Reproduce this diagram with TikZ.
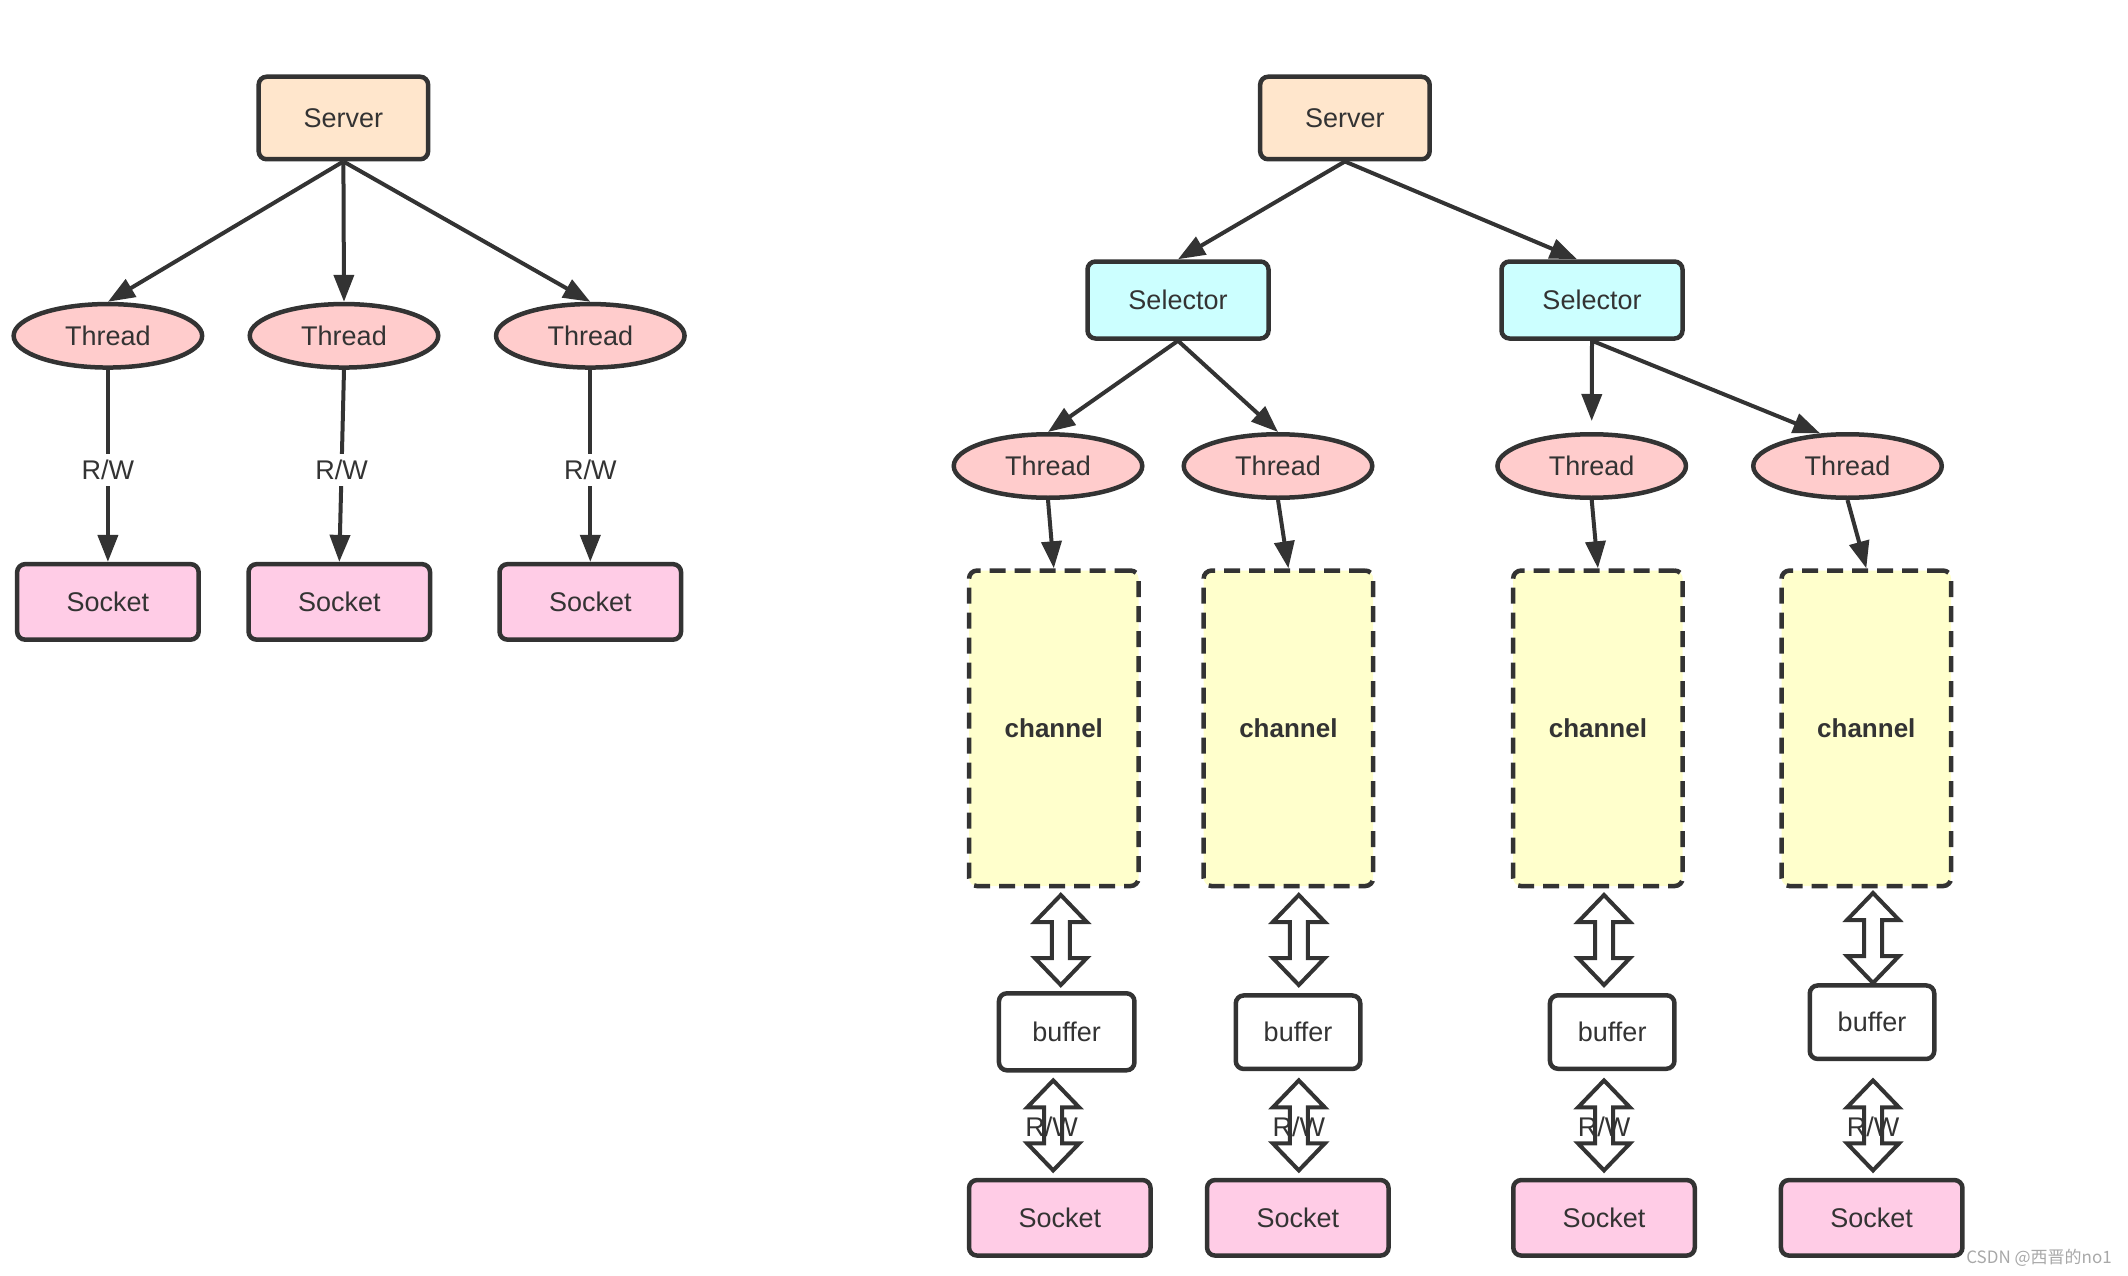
\documentclass[tikz,border=0pt]{standalone}
\usepackage{fontspec}
\setmainfont{Liberation Sans}
\newfontfamily\cjkfont{Noto Sans CJK SC}
\usetikzlibrary{arrows.meta,calc,shapes.geometric}
\definecolor{ink}{HTML}{333333}
\definecolor{serverc}{HTML}{FFE6CC}
\definecolor{selc}{HTML}{CCFFFF}
\definecolor{threadc}{HTML}{FFCCCC}
\definecolor{sockc}{HTML}{FFCCE6}
\definecolor{chanc}{HTML}{FFFFCC}
\definecolor{wmark}{HTML}{A8A8A8}
\tikzset{
  txt/.style={text=ink, font=\fontsize{27}{32}\selectfont},
  box/.style={txt, draw=ink, line width=4.5pt, rounded corners=8pt, inner sep=0pt},
  serverbox/.style={box, fill=serverc, minimum width=169.5pt, minimum height=82.5pt},
  selbox/.style={box, fill=selc, minimum width=181pt, minimum height=77pt},
  threadell/.style={txt, ellipse, draw=ink, line width=4.5pt, fill=threadc, minimum width=188.5pt, minimum height=63.5pt, inner sep=0pt},
  sockbox/.style={box, fill=sockc, minimum width=181.5pt, minimum height=75.5pt},
  chanbox/.style={box, fill=chanc, dash pattern=on 16pt off 9pt, minimum width=169.5pt, minimum height=315.5pt, font=\fontsize{26}{31}\selectfont\bfseries},
  bufbox/.style={box, fill=white, minimum width=124.5pt, minimum height=73.5pt},
  conn/.style={draw=ink, line width=4pt, -{Triangle[length=27pt,width=20pt]}},
  rwlbl/.style={txt, inner sep=0pt},
  dblarr/.pic={\draw[draw=ink, line width=4pt, fill=white]
    (0,-45) -- (26,-18) -- (9,-18) -- (9,18) -- (26,18) -- (0,45)
    -- (-26,18) -- (-9,18) -- (-9,-18) -- (-26,-18) -- cycle;}
}
\begin{document}
\begin{tikzpicture}[x=1pt,y=-1pt]
\useasboundingbox (0,0) rectangle (2128,1276);

% ---------- left part ----------
\node[serverbox] (LS) at (343.4,118) {Server};
\node[threadell] (LT1) at (107.9,335.8) {Thread};
\node[threadell] (LT2) at (344,335.8) {Thread};
\node[threadell] (LT3) at (590.3,335.8) {Thread};
\node[sockbox] (LK1) at (107.9,601.9) {Socket};
\node[sockbox] (LK2) at (339.3,601.9) {Socket};
\node[sockbox] (LK3) at (590.3,601.9) {Socket};

\draw[conn] (LS.south) -- (LT1.north);
\draw[conn] (LS.south) -- (LT2.north);
\draw[conn] (LS.south) -- (LT3.north);
\draw[conn] (LT1.south) -- node[rwlbl, fill=white, inner ysep=6pt, pos=0.52] {R/W} (LK1.north);
\draw[conn] (LT2.south) -- node[rwlbl, fill=white, inner ysep=6pt, pos=0.52] {R/W} (LK2.north);
\draw[conn] (LT3.south) -- node[rwlbl, fill=white, inner ysep=6pt, pos=0.52] {R/W} (LK3.north);

% ---------- right part ----------
\node[serverbox] (RS) at (1344.9,118) {Server};
\node[selbox] (S1) at (1178,300) {Selector};
\node[selbox] (S2) at (1592,300) {Selector};

\node[threadell] (RT1) at (1048,466) {Thread};
\node[threadell] (RT2) at (1278,466) {Thread};
\node[threadell] (RT3) at (1591.7,466) {Thread};
\node[threadell] (RT4) at (1847.5,466) {Thread};

\node[chanbox] (C1) at (1053.8,728.3) {channel};
\node[chanbox] (C2) at (1288.4,728.3) {channel};
\node[chanbox] (C3) at (1597.9,728.3) {channel};
\node[chanbox] (C4) at (1866.3,728.3) {channel};

\node[bufbox, minimum width=135.5pt, minimum height=77pt] (B1) at (1066.7,1031.8) {buffer};
\node[bufbox] (B2) at (1298,1032.2) {buffer};
\node[bufbox] (B3) at (1612.2,1032) {buffer};
\node[bufbox] (B4) at (1872,1022.2) {buffer};

\node[sockbox] (K1) at (1059.8,1217.8) {Socket};
\node[sockbox] (K2) at (1297.8,1217.8) {Socket};
\node[sockbox] (K3) at (1604,1217.8) {Socket};
\node[sockbox] (K4) at (1871.7,1217.8) {Socket};

\draw[conn] (RS.south) -- (S1.north);
\draw[conn] (RS.south) -- ($(S2.north)+(-15,0)$);
\draw[conn] (S1.south) -- (RT1.north);
\draw[conn] (S1.south) -- (RT2.north);
\draw[conn] (S2.south) -- ($(RT3.north)+(0,-11)$);
\draw[conn] (S2.south) -- (RT4.130);

\draw[conn] (RT1.south) -- (C1.north);
\draw[conn] (RT2.south) -- (C2.north);
\draw[conn] (RT3.south) -- (C3.north);
\draw[conn] (RT4.south) -- (C4.north);

% channel <-> buffer
\coordinate (U1) at (1060.8,940);
\coordinate (U2) at (1298.8,940);
\coordinate (U3) at (1604,940);
\coordinate (U4) at (1873,938);
\pic at (U1) {dblarr};
\pic at (U2) {dblarr};
\pic at (U3) {dblarr};
\pic at (U4) {dblarr};

% buffer <-> socket
\coordinate (D1) at (1053.2,1125.4);
\coordinate (D2) at (1298.8,1125.4);
\coordinate (D3) at (1604,1125.4);
\coordinate (D4) at (1873,1125.4);
\pic at (D1) {dblarr};
\pic at (D2) {dblarr};
\pic at (D3) {dblarr};
\pic at (D4) {dblarr};
\node[rwlbl] (RW1) at (1051.7,1127) {R/W};
\node[rwlbl] (RW2) at (1298.8,1127) {R/W};
\node[rwlbl] (RW3) at (1604,1127) {R/W};
\node[rwlbl] (RW4) at (1873,1127) {R/W};

% watermark
\node[text=wmark, font=\cjkfont\fontsize{17}{20}\selectfont, inner sep=0pt] (WM) at (2039,1258) {CSDN @西晋的no1};
\end{tikzpicture}
\end{document}
